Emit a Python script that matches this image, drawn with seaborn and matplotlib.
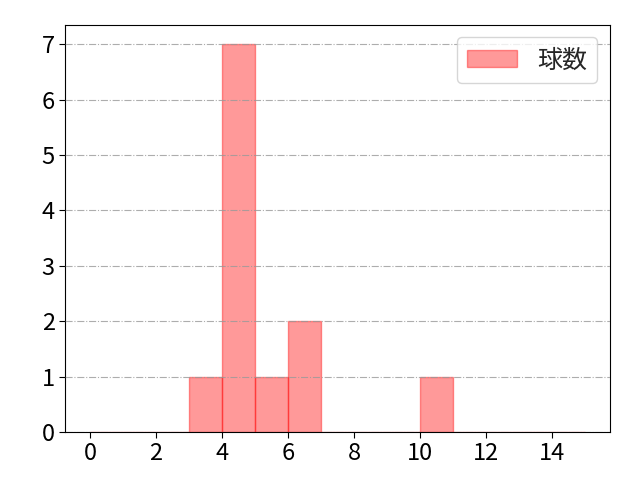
import numpy as np
import pandas as pd
import seaborn as sns
import matplotlib.pyplot as plt

# pitch counts per appearance
pitch_counts = [3, 4, 4, 4, 4, 4, 4, 4, 5, 6, 6, 10]
bin_edges = list(range(0, 16))
label = '球数'

sns.set_theme(style='white')
plt.rcParams['font.family'] = ['Noto Sans CJK JP', 'DejaVu Sans']

df = pd.DataFrame({label: pitch_counts})

fig, ax = plt.subplots(figsize=(6.4, 4.8), dpi=100)
sns.histplot(data=df, x=label, bins=bin_edges, color='red', alpha=0.4,
             edgecolor=(1, 0, 0, 0.4), linewidth=1, label=label, ax=ax)

# grid sits on top of the bars in the reference
ax.set_axisbelow(False)
ax.grid(axis='y', color='#999999', linestyle='-.', linewidth=0.8, alpha=0.8)
ax.set_xlabel('')
ax.set_ylabel('')
ax.set_xticks(range(0, 16, 2))
ax.tick_params(labelsize=17, length=4, width=0.8, direction='out',
               left=True, bottom=True, colors='black')
for s in ax.spines.values():
    s.set_color('black')
    s.set_linewidth(0.8)
ax.legend(fontsize=18, loc='upper right')

plt.subplots_adjust(left=0.102, right=0.953, top=0.948, bottom=0.1)
plt.savefig('out.png')
